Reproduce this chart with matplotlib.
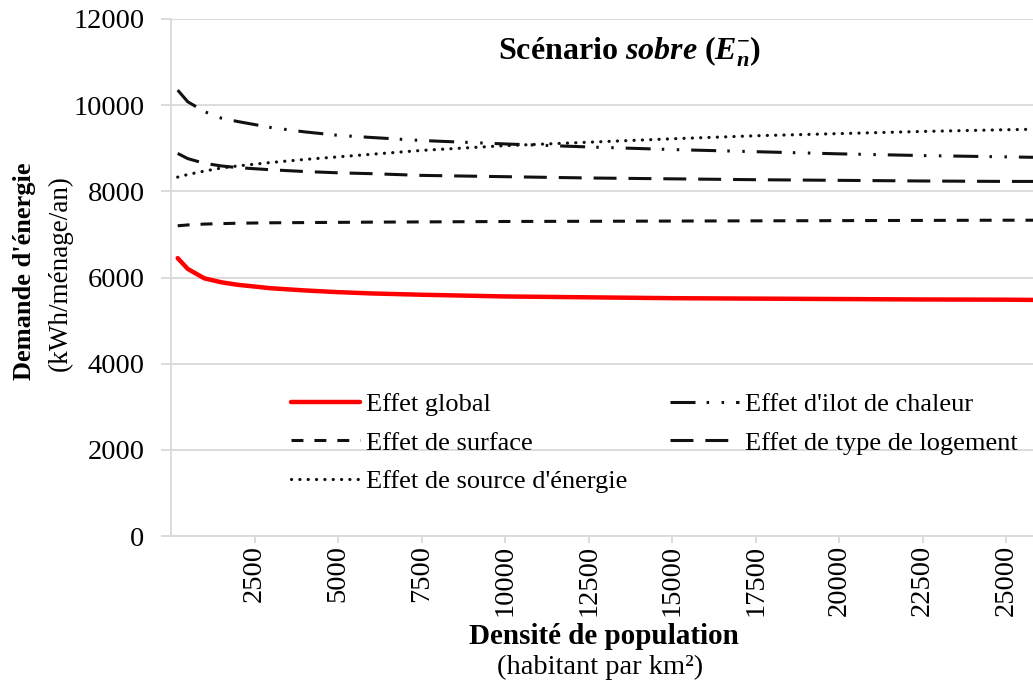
import matplotlib
matplotlib.use("Agg")
import matplotlib.pyplot as plt

plt.rcParams['font.family'] = ['Liberation Serif', 'DejaVu Serif']
plt.rcParams['mathtext.fontset'] = 'custom'
plt.rcParams['mathtext.rm'] = 'Liberation Serif'
plt.rcParams['mathtext.it'] = 'Liberation Serif:italic'
plt.rcParams['mathtext.bf'] = 'Liberation Serif:bold'
plt.rcParams['mathtext.bfit'] = 'Liberation Serif:bold:italic'
plt.rcParams['lines.scale_dashes'] = False

# ---- data ----
density = [200, 500, 1000, 1500, 2000, 3000, 4000, 5000, 6000, 7500,
           10000, 12500, 15000, 17500, 20000, 22500, 25000, 25800]
effet_global = [6450, 6200, 5980, 5890, 5830, 5750, 5700, 5660, 5630, 5600,
                5560, 5540, 5520, 5510, 5500, 5490, 5485, 5480]
effet_surface = [7200, 7220, 7240, 7250, 7260, 7270, 7275, 7280, 7285, 7290,
                 7300, 7305, 7310, 7315, 7320, 7325, 7330, 7330]
effet_source = [8330, 8390, 8470, 8540, 8590, 8670, 8740, 8800, 8860, 8950,
                9060, 9140, 9220, 9290, 9340, 9390, 9430, 9440]
effet_ilot = [10350, 10080, 9850, 9700, 9620, 9480, 9380, 9300, 9250, 9180,
              9100, 9030, 8970, 8920, 8870, 8830, 8800, 8790]
effet_logement = [8880, 8760, 8650, 8590, 8550, 8500, 8460, 8430, 8410, 8370,
                  8340, 8310, 8290, 8270, 8255, 8240, 8230, 8230]

labels = ["Effet global", "Effet de surface", "Effet de source d'énergie",
          "Effet d'ilot de chaleur", "Effet de type de logement"]
xticks = [2500, 5000, 7500, 10000, 12500, 15000, 17500, 20000, 22500, 25000]
yticks = [0, 2000, 4000, 6000, 8000, 10000, 12000]

fig = plt.figure(figsize=(10.33, 6.87), dpi=100)
ax = fig.add_axes([171 / 1033, 1 - 536 / 687, 1 - 171 / 1033, (536 - 19) / 687])

grid_c = '#d9d9d9'
blk = '#111111'
ax.plot(density, effet_global, color='#ff0000', lw=3.2, label=labels[0],
        solid_capstyle='round')
ax.plot(density, effet_surface, color=blk, lw=2.2, dashes=(8.6, 7.9), label=labels[1])
ax.plot(density, effet_source, color=blk, lw=2.3, dashes=(0.1, 5.9),
        dash_capstyle='round', label=labels[2])
ax.plot(density, effet_ilot, color=blk, lw=2.2,
        dashes=(18, 8, 1.8, 9, 1.8, 8.6), label=labels[3])
ax.plot(density, effet_logement, color=blk, lw=2.2, dashes=(16.5, 8.6), label=labels[4])

ax.set_xlim(0, 25800)
ax.set_ylim(0, 12000)
ax.set_xticks(xticks)
ax.set_xticklabels([str(t) for t in xticks], rotation=90, fontsize=20.5)
ax.set_yticks(yticks)
ax.set_yticklabels([str(t) for t in yticks], fontsize=20.5)
ax.yaxis.grid(True, color=grid_c, lw=1.3)
ax.set_axisbelow(True)
for s in ['top', 'right']:
    ax.spines[s].set_visible(False)
for s in ['left', 'bottom']:
    ax.spines[s].set_color(grid_c)
    ax.spines[s].set_linewidth(1.3)
ax.tick_params(axis='y', color=grid_c, width=1.3, length=7, pad=12)
ax.tick_params(axis='x', color=grid_c, width=1.3, length=5, pad=1.5)

leg = ax.legend(loc='upper left', bbox_to_anchor=(291 / 1033, 1 - 393 / 687),
                bbox_transform=fig.transFigure, ncol=2, frameon=False, fontsize=19,
                handlelength=2.62, handletextpad=0.22, columnspacing=1.62,
                labelspacing=0.56, borderpad=0, borderaxespad=0)

fig.text(630 / 1033, 1 - 52 / 687,
         r"Scénario $\mathbfit{sobre}$ ($\mathbfit{E}_{\mathbfit{n}}^{\mathbf{-}}$)",
         ha='center', va='center', fontsize=23, fontweight='bold')

fig.text(25 / 1033, 1 - 271 / 687, "Demande d'énergie", rotation=90,
         ha='center', va='center', fontsize=19, fontweight='bold')
fig.text(60 / 1033, 1 - 273 / 687, "(kWh/ménage/an)", rotation=90,
         ha='center', va='center', fontsize=19.5)
fig.text(604 / 1033, 1 - 637 / 687, "Densité de population",
         ha='center', va='center', fontsize=21, fontweight='bold')
fig.text(600 / 1033, 1 - 667 / 687, "(habitant par km²)",
         ha='center', va='center', fontsize=20.5)

fig.savefig('out.png', dpi=100)
